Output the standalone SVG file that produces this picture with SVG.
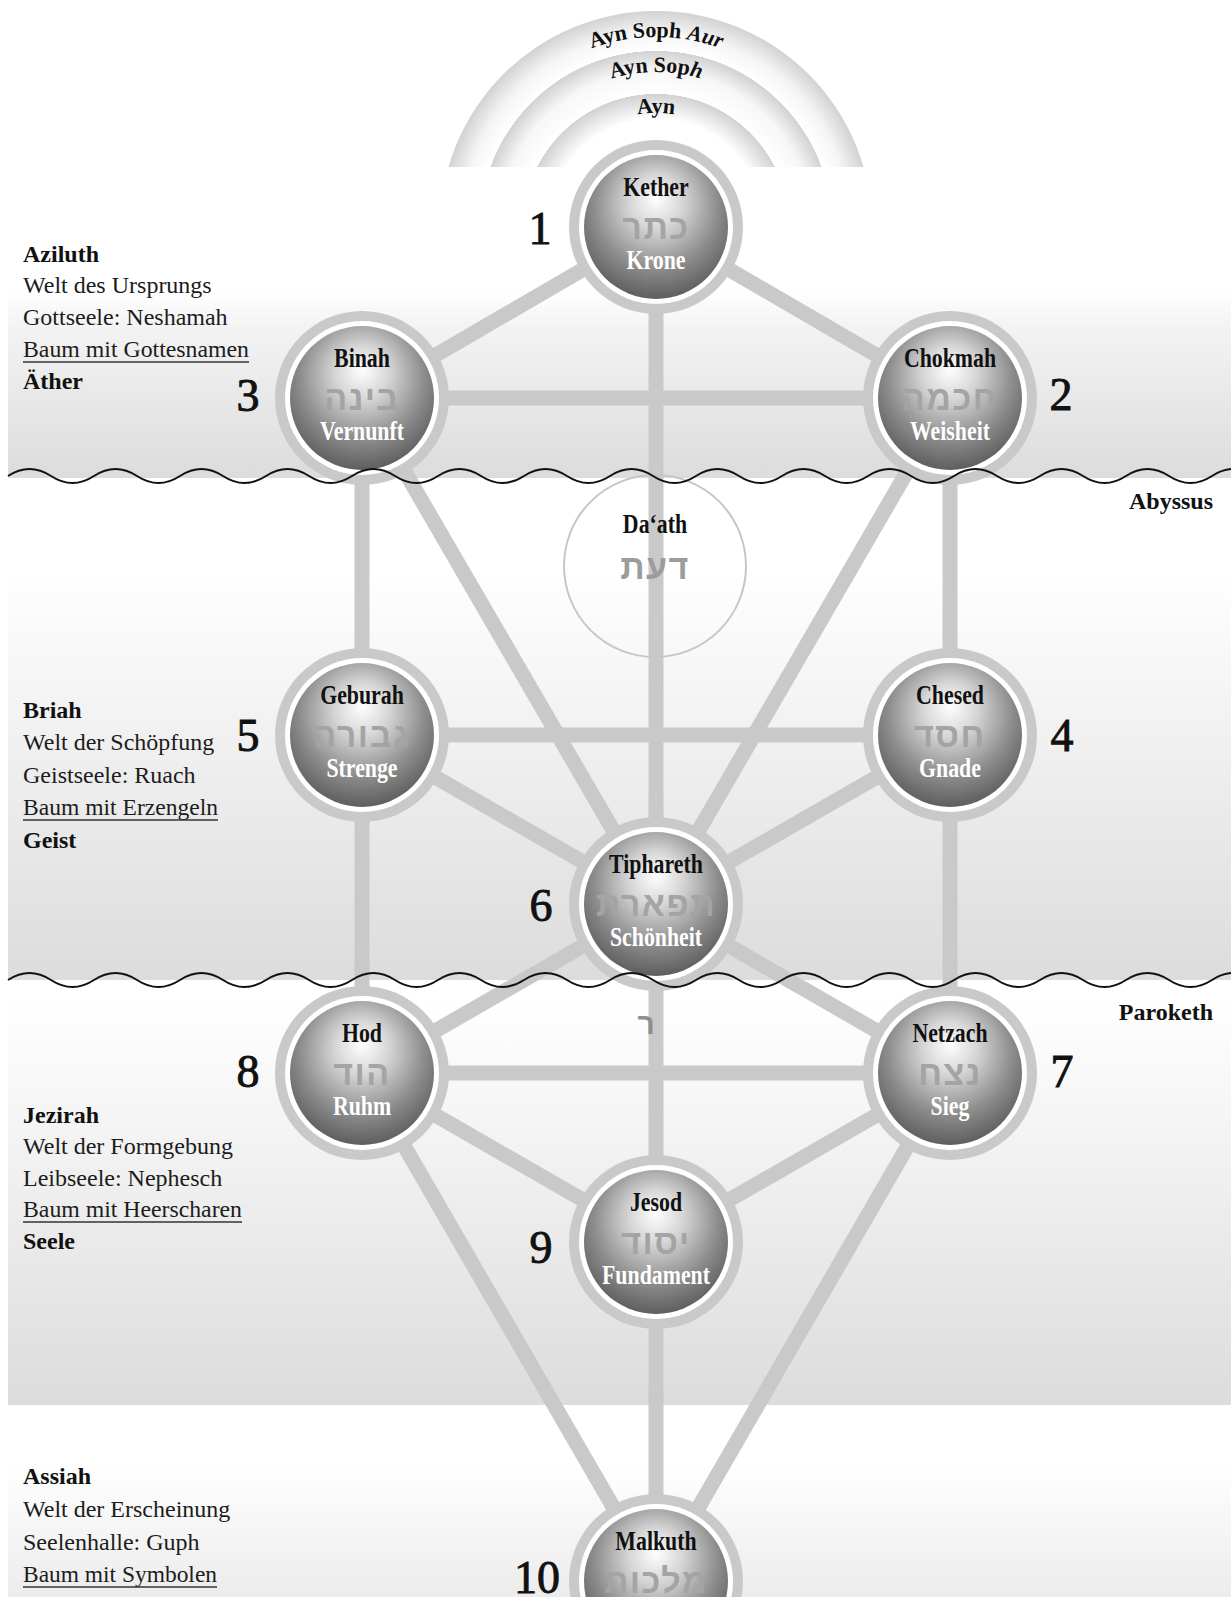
<svg xmlns="http://www.w3.org/2000/svg" width="1231" height="1597" viewBox="0 0 1231 1597">
<style>
.path{stroke:#c9c9c9;stroke-width:15;fill:none;stroke-linecap:butt}
.ring{fill:#c9c9c9}
.nm{font-family:"Liberation Serif",serif;font-weight:bold;font-size:28px;fill:#111;text-anchor:middle}
.tr{font-family:"Liberation Serif",serif;font-weight:bold;font-size:28px;fill:#fff;text-anchor:middle}
.he{font-family:"Liberation Sans","DejaVu Sans",sans-serif;font-weight:bold;font-size:34px;fill:#a4a4a4;text-anchor:middle;letter-spacing:1.5px}
.num{font-family:"Liberation Serif",serif;font-size:46px;fill:#111;stroke:#111;stroke-width:0.9;text-anchor:middle}
.lb{font-family:"Liberation Serif",serif;font-size:24px;fill:#1c1c1c}
.lbb{font-family:"Liberation Serif",serif;font-size:24px;font-weight:bold;fill:#111}
.ayn{font-family:"Liberation Serif",serif;font-size:22px;font-weight:bold;fill:#111;text-anchor:middle}
.ul{stroke:#333;stroke-width:1.5}
.wave{fill:none;stroke:#111;stroke-width:2}
</style>
<defs>
<radialGradient id="sph" cx="0.5" cy="0.38" r="0.62" fx="0.5" fy="0.3">
<stop offset="0" stop-color="#ffffff"/>
<stop offset="0.3" stop-color="#d6d6d6"/>
<stop offset="0.7" stop-color="#8c8c8c"/>
<stop offset="1" stop-color="#5e5e5e"/>
</radialGradient>
<radialGradient id="ayn" gradientUnits="userSpaceOnUse" cx="656" cy="227" r="216">
<stop offset="0" stop-color="#fff"/>
<stop offset="0.5" stop-color="#fff"/>
<stop offset="0.615" stop-color="#d2d2d2"/>
<stop offset="0.617" stop-color="#fff"/>
<stop offset="0.72" stop-color="#f7f7f7"/>
<stop offset="0.814" stop-color="#d2d2d2"/>
<stop offset="0.816" stop-color="#fff"/>
<stop offset="0.9" stop-color="#f5f5f5"/>
<stop offset="1" stop-color="#d2d2d2"/>
</radialGradient>
<linearGradient id="bandA" x1="0" y1="0" x2="0" y2="1">
<stop offset="0" stop-color="#fff"/>
<stop offset="0.2" stop-color="#f3f3f3"/>
<stop offset="1" stop-color="#dcdcdc"/>
</linearGradient>
<linearGradient id="bandB" x1="0" y1="0" x2="0" y2="1">
<stop offset="0" stop-color="#fff"/>
<stop offset="1" stop-color="#dcdcdc"/>
</linearGradient>
<linearGradient id="bandD" x1="0" y1="0" x2="0" y2="1">
<stop offset="0" stop-color="#fff"/>
<stop offset="0.3" stop-color="#fff"/>
<stop offset="1" stop-color="#ececec"/>
</linearGradient>
<clipPath id="topclip"><rect x="0" y="0" width="1231" height="167"/></clipPath>
<path id="arc1" d="M466,227 A190,190 0 0 1 846,227"/>
<path id="arc2" d="M501,227 A155,155 0 0 1 811,227"/>
<path id="arc3" d="M542,227 A114,114 0 0 1 770,227"/>
</defs>

<g id="background">
<rect x="0" y="0" width="1231" height="1597" fill="#fff"/>
<rect x="8" y="290" width="1223" height="188" fill="url(#bandA)"/>
<rect x="8" y="570" width="1223" height="410" fill="url(#bandB)"/>
<rect x="8" y="1000" width="1223" height="405" fill="url(#bandB)"/>
<rect x="8" y="1405" width="1223" height="192" fill="url(#bandD)"/>
</g>

<g id="ayn-soph">
<circle cx="656" cy="227" r="216" fill="url(#ayn)" clip-path="url(#topclip)"/>
<text class="ayn"><textPath href="#arc1" startOffset="50%">Ayn Soph <tspan font-style="italic">Aur</tspan></textPath></text>
<text class="ayn"><textPath href="#arc2" startOffset="50%">Ayn Sop<tspan font-style="italic">h</tspan></textPath></text>
<text class="ayn"><textPath href="#arc3" startOffset="50%">Ayn</textPath></text>
</g>

<g id="connectors">
<line class="path" x1="656" y1="227" x2="362" y2="398"/>
<line class="path" x1="656" y1="227" x2="950" y2="398"/>
<line class="path" x1="656" y1="227" x2="656" y2="904"/>
<line class="path" x1="362" y1="398" x2="950" y2="398"/>
<line class="path" x1="362" y1="398" x2="362" y2="735"/>
<line class="path" x1="362" y1="398" x2="656" y2="904"/>
<line class="path" x1="950" y1="398" x2="950" y2="735"/>
<line class="path" x1="950" y1="398" x2="656" y2="904"/>
<line class="path" x1="362" y1="735" x2="950" y2="735"/>
<line class="path" x1="362" y1="735" x2="656" y2="904"/>
<line class="path" x1="950" y1="735" x2="656" y2="904"/>
<line class="path" x1="362" y1="735" x2="362" y2="1073"/>
<line class="path" x1="950" y1="735" x2="950" y2="1073"/>
<line class="path" x1="656" y1="904" x2="362" y2="1073"/>
<line class="path" x1="656" y1="904" x2="950" y2="1073"/>
<line class="path" x1="656" y1="904" x2="656" y2="1242"/>
<line class="path" x1="362" y1="1073" x2="950" y2="1073"/>
<line class="path" x1="362" y1="1073" x2="656" y2="1242"/>
<line class="path" x1="950" y1="1073" x2="656" y2="1242"/>
<line class="path" x1="362" y1="1073" x2="656" y2="1581"/>
<line class="path" x1="950" y1="1073" x2="656" y2="1581"/>
<line class="path" x1="656" y1="1242" x2="656" y2="1581"/>
<text class="he" x="647" y="1034" style="font-size:30px;fill:#8e8e8e">ר</text>
</g>

<g id="daath" transform="translate(655,566)">
<circle r="91" fill="none" stroke="#c6c6c6" stroke-width="2"/>
<text class="nm" transform="translate(0,-33) scale(0.78,1)">Da‘ath</text>
<text class="he" y="13" style="fill:#9c9c9c">דעת</text>
</g>

<g id="kether" transform="translate(656,227)">
<circle class="ring" r="87"/><circle r="77" fill="#fff"/><circle r="72" fill="url(#sph)"/>
<text class="nm" transform="translate(0,-31) scale(0.78,1)">Kether</text>
<text class="he" y="12">כתר</text>
<text class="tr" transform="translate(0,42) scale(0.78,1)">Krone</text>
<text class="num" x="-116" y="17">1</text>
</g>

<g id="chokmah" transform="translate(950,398)">
<circle class="ring" r="87"/><circle r="77" fill="#fff"/><circle r="72" fill="url(#sph)"/>
<text class="nm" transform="translate(0,-31) scale(0.78,1)">Chokmah</text>
<text class="he" y="12">חכמה</text>
<text class="tr" transform="translate(0,42) scale(0.78,1)">Weisheit</text>
<text class="num" x="111" y="12">2</text>
</g>

<g id="binah" transform="translate(362,398)">
<circle class="ring" r="87"/><circle r="77" fill="#fff"/><circle r="72" fill="url(#sph)"/>
<text class="nm" transform="translate(0,-31) scale(0.78,1)">Binah</text>
<text class="he" y="12">בינה</text>
<text class="tr" transform="translate(0,42) scale(0.78,1)">Vernunft</text>
<text class="num" x="-114" y="13">3</text>
</g>

<g id="chesed" transform="translate(950,735)">
<circle class="ring" r="87"/><circle r="77" fill="#fff"/><circle r="72" fill="url(#sph)"/>
<text class="nm" transform="translate(0,-31) scale(0.78,1)">Chesed</text>
<text class="he" y="12">חסד</text>
<text class="tr" transform="translate(0,42) scale(0.78,1)">Gnade</text>
<text class="num" x="112" y="16">4</text>
</g>

<g id="geburah" transform="translate(362,735)">
<circle class="ring" r="87"/><circle r="77" fill="#fff"/><circle r="72" fill="url(#sph)"/>
<text class="nm" transform="translate(0,-31) scale(0.78,1)">Geburah</text>
<text class="he" y="12">גבורה</text>
<text class="tr" transform="translate(0,42) scale(0.78,1)">Strenge</text>
<text class="num" x="-114" y="16">5</text>
</g>

<g id="tiphareth" transform="translate(656,904)">
<circle class="ring" r="87"/><circle r="77" fill="#fff"/><circle r="72" fill="url(#sph)"/>
<text class="nm" transform="translate(0,-31) scale(0.78,1)">Tiphareth</text>
<text class="he" y="12">תפארת</text>
<text class="tr" transform="translate(0,42) scale(0.78,1)">Schönheit</text>
<text class="num" x="-115" y="17">6</text>
</g>

<g id="netzach" transform="translate(950,1073)">
<circle class="ring" r="87"/><circle r="77" fill="#fff"/><circle r="72" fill="url(#sph)"/>
<text class="nm" transform="translate(0,-31) scale(0.78,1)">Netzach</text>
<text class="he" y="12">נצח</text>
<text class="tr" transform="translate(0,42) scale(0.78,1)">Sieg</text>
<text class="num" x="112" y="14">7</text>
</g>

<g id="hod" transform="translate(362,1073)">
<circle class="ring" r="87"/><circle r="77" fill="#fff"/><circle r="72" fill="url(#sph)"/>
<text class="nm" transform="translate(0,-31) scale(0.78,1)">Hod</text>
<text class="he" y="12">הוד</text>
<text class="tr" transform="translate(0,42) scale(0.78,1)">Ruhm</text>
<text class="num" x="-114" y="14">8</text>
</g>

<g id="jesod" transform="translate(656,1242)">
<circle class="ring" r="87"/><circle r="77" fill="#fff"/><circle r="72" fill="url(#sph)"/>
<text class="nm" transform="translate(0,-31) scale(0.78,1)">Jesod</text>
<text class="he" y="12">יסוד</text>
<text class="tr" transform="translate(0,42) scale(0.78,1)">Fundament</text>
<text class="num" x="-115" y="21">9</text>
</g>

<g id="malkuth" transform="translate(656,1581)">
<circle class="ring" r="87"/><circle r="77" fill="#fff"/><circle r="72" fill="url(#sph)"/>
<text class="nm" transform="translate(0,-31) scale(0.78,1)">Malkuth</text>
<text class="he" y="12">מלכות</text>
<text class="num" x="-119" y="12">10</text>
</g>

<g id="veils">
<path class="wave" d="M8,476 q21.5,-14 43,0 t43,0 t43,0 t43,0 t43,0 t43,0 t43,0 t43,0 t43,0 t43,0 t43,0 t43,0 t43,0 t43,0 t43,0 t43,0 t43,0 t43,0 t43,0 t43,0 t43,0 t43,0 t43,0 t43,0 t43,0 t43,0 t43,0 t43,0 t43,0"/>
<path class="wave" d="M8,980 q21.5,-14 43,0 t43,0 t43,0 t43,0 t43,0 t43,0 t43,0 t43,0 t43,0 t43,0 t43,0 t43,0 t43,0 t43,0 t43,0 t43,0 t43,0 t43,0 t43,0 t43,0 t43,0 t43,0 t43,0 t43,0 t43,0 t43,0 t43,0 t43,0 t43,0"/>
<text class="lbb" x="1213" y="509" text-anchor="end">Abyssus</text>
<text class="lbb" x="1213" y="1020" text-anchor="end">Paroketh</text>
</g>

<g id="worlds">
<text class="lbb" x="23" y="262">Aziluth</text>
<text class="lb" x="23" y="293">Welt des Ursprungs</text>
<text class="lb" x="23" y="325">Gottseele: Neshamah</text>
<text class="lb" x="23" y="357" textLength="226" lengthAdjust="spacingAndGlyphs">Baum mit Gottesnamen</text>
<line class="ul" x1="23" y1="362" x2="249" y2="362"/>
<text class="lbb" x="23" y="389">Äther</text>

<text class="lbb" x="23" y="718">Briah</text>
<text class="lb" x="23" y="750">Welt der Schöpfung</text>
<text class="lb" x="23" y="783">Geistseele: Ruach</text>
<text class="lb" x="23" y="815" textLength="195" lengthAdjust="spacingAndGlyphs">Baum mit Erzengeln</text>
<line class="ul" x1="23" y1="820" x2="218" y2="820"/>
<text class="lbb" x="23" y="848">Geist</text>

<text class="lbb" x="23" y="1123">Jezirah</text>
<text class="lb" x="23" y="1154">Welt der Formgebung</text>
<text class="lb" x="23" y="1186">Leibseele: Nephesch</text>
<text class="lb" x="23" y="1217" textLength="219" lengthAdjust="spacingAndGlyphs">Baum mit Heerscharen</text>
<line class="ul" x1="23" y1="1222" x2="242" y2="1222"/>
<text class="lbb" x="23" y="1249">Seele</text>

<text class="lbb" x="23" y="1484">Assiah</text>
<text class="lb" x="23" y="1517">Welt der Erscheinung</text>
<text class="lb" x="23" y="1550">Seelenhalle: Guph</text>
<text class="lb" x="23" y="1582" textLength="194" lengthAdjust="spacingAndGlyphs">Baum mit Symbolen</text>
<line class="ul" x1="23" y1="1587" x2="217" y2="1587"/>
</g>
</svg>
